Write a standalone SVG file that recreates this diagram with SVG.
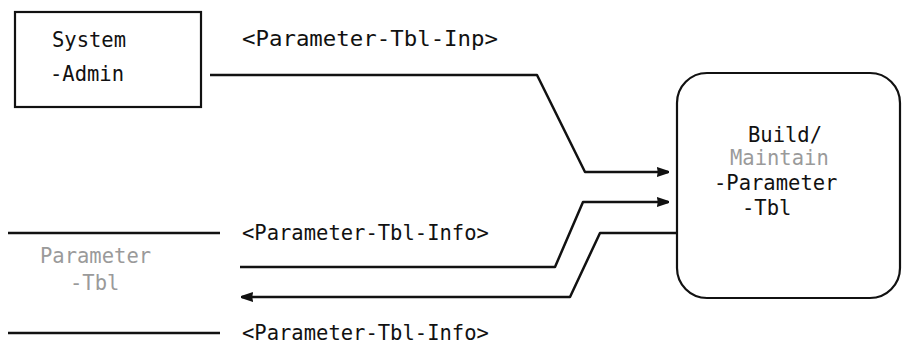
<svg xmlns="http://www.w3.org/2000/svg" width="902" height="346" viewBox="0 0 902 346">
  <style>
    .t { font-family: "DejaVu Sans Mono", "Liberation Mono", monospace; font-size: 20.5px; fill: #111; }
    .faint { fill: #9a9a9a; }
    .box { fill: none; stroke: #111; stroke-width: 2.2; }
    .ln { fill: none; stroke: #111; stroke-width: 2.5; stroke-linejoin: round; }
  </style>
  <defs>
    <marker id="ah" viewBox="0 0 12 10" refX="11" refY="5" markerWidth="5" markerHeight="5.2" markerUnits="strokeWidth" orient="auto">
      <path d="M0,0 L12,4 L12,6 L0,10 Q2,5 0,0 Z" fill="#111"/>
    </marker>
  </defs>
  <rect width="902" height="346" fill="#fff"/>

  <g id="node-system-admin">
    <rect class="box" x="15" y="12" width="186" height="95"/>
    <text class="t" x="52" y="47">System</text>
    <text class="t" x="50" y="81">-Admin</text>
  </g>

  <g id="node-parameter-tbl">
    <line class="ln" x1="8" y1="233" x2="220" y2="233"/>
    <line class="ln" x1="8" y1="333" x2="220" y2="333"/>
    <text class="t faint" x="40" y="263">Parameter</text>
    <text class="t faint" x="70" y="290">-Tbl</text>
  </g>

  <g id="node-build-maintain">
    <rect class="box" x="677" y="73" width="223" height="225" rx="30" ry="30"/>
    <text class="t" x="748" y="142">Build/</text>
    <text class="t faint" x="730" y="165">Maintain</text>
    <text class="t" x="714" y="190">-Parameter</text>
    <text class="t" x="742" y="215">-Tbl</text>
  </g>

  <g id="connectors">
    <path class="ln" d="M210,75 L537,75 L585,172 L668,172" marker-end="url(#ah)"/>
    <path class="ln" d="M240,267 L555,267 L583,202 L668,202" marker-end="url(#ah)"/>
    <path class="ln" d="M677,233 L600,233 L570,297 L242,297" marker-end="url(#ah)"/>
  </g>

  <g id="labels">
    <text class="t" x="242" y="46" textLength="256" lengthAdjust="spacingAndGlyphs">&lt;Parameter-Tbl-Inp&gt;</text>
    <text class="t" x="242" y="240">&lt;Parameter-Tbl-Info&gt;</text>
    <text class="t" x="242" y="340">&lt;Parameter-Tbl-Info&gt;</text>
  </g>
</svg>
